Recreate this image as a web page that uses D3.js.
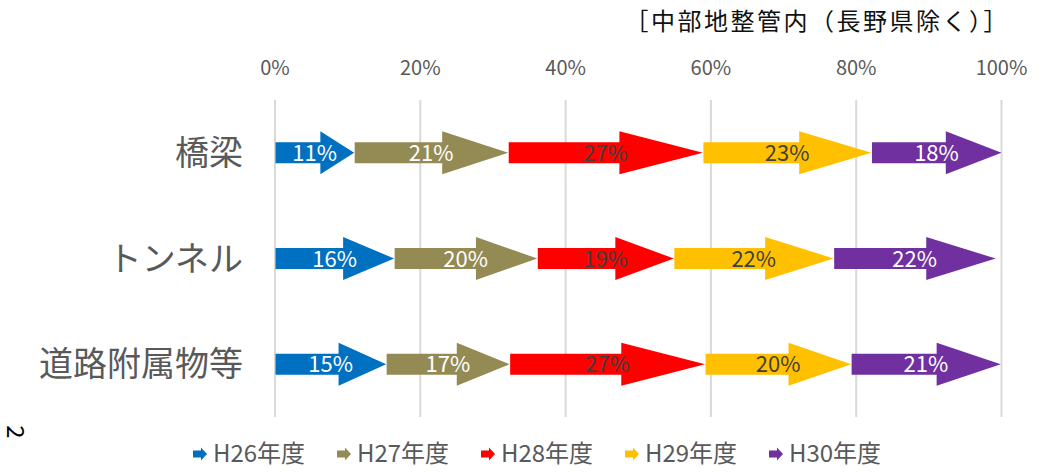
<!DOCTYPE html>
<html>
<head>
<meta charset="utf-8">
<script src="https://cdn.jsdelivr.net/npm/d3@7"></script>
<style>
  body { margin: 0; background: #fff; }
  svg { display: block; font-family: "Noto Sans CJK JP", "Noto Sans", sans-serif; }
</style>
</head>
<body>
<svg id="chart" width="1045" height="476"></svg>
<script>
/*** DATA ***/
let categories = ["橋梁", "トンネル", "道路附属物等"];
let seriesNames = ["H26年度", "H27年度", "H28年度", "H29年度", "H30年度"];
let h26 = [0.109, 0.164, 0.153],
    h27 = [0.212, 0.197, 0.170],
    h28 = [0.268, 0.188, 0.269],
    h29 = [0.232, 0.220, 0.201],
    h30 = [0.179, 0.223, 0.206];
let ticks = [0, 0.2, 0.4, 0.6, 0.8, 1.0];
let title = "［中部地整管内（長野県除く）］";

let colors = ["#0070C0", "#948A54", "#FF0000", "#FFC000", "#7030A0"],
    labelColors = ["#fff", "#fff", "#404040", "#404040", "#fff"];

/*** SETUP ***/
let svg = d3.select("#chart");
let x = d3.scaleLinear().domain([0, 1]).range([275, 1001.5]),
    y = d3.scaleBand().domain(categories).range([100, 417]);

let seriesVals = [h26, h27, h28, h29, h30];
let stacked = d3.stack()
    .keys(d3.range(seriesNames.length))
    .value((d, k) => seriesVals[k][d])(d3.range(categories.length));

// arrow shape, head is stretched with the arrow
function arrowPath(x0, x1, cy, shaftH, headH) {
    let head = (x1 - x0) * 0.43;
    return "M" + x0 + "," + (cy - shaftH / 2) +
        "L" + (x1 - head) + "," + (cy - shaftH / 2) +
        "L" + (x1 - head) + "," + (cy - headH / 2) +
        "L" + x1 + "," + cy +
        "L" + (x1 - head) + "," + (cy + headH / 2) +
        "L" + (x1 - head) + "," + (cy + shaftH / 2) +
        "L" + x0 + "," + (cy + shaftH / 2) + "Z";
}

/*** GRID + AXIS ***/
svg.append("g").selectAll("line").data(ticks).join("line")
    .attr("x1", d => x(d)).attr("x2", d => x(d))
    .attr("y1", 100).attr("y2", 417)
    .attr("stroke", "#d9d9d9").attr("stroke-width", 2);

svg.append("g").selectAll("text").data(ticks).join("text")
    .attr("x", d => x(d)).attr("y", 75)
    .attr("text-anchor", "middle")
    .attr("font-size", 20).attr("fill", "#595959")
    .text(d3.format(".0%"));

svg.append("g").selectAll("text").data(categories).join("text")
    .attr("x", 243).attr("y", d => y(d) + y.bandwidth() / 2 + 12)
    .attr("text-anchor", "end")
    .attr("font-size", 34).attr("fill", "#595959")
    .text(d => d);

/*** ARROWS ***/
let groups = svg.append("g").selectAll("g").data(stacked).join("g");

groups.selectAll("path").data(d => d).join("path")
    .attr("d", d => arrowPath(x(d[0]) + 0.5, x(d[1]), y(categories[d.data]) + y.bandwidth() / 2, 21, 43))
    .attr("fill", function() { return colors[d3.select(this.parentNode).datum().key]; });

groups.selectAll("text").data(d => d).join("text")
    .attr("x", d => (x(d[0]) + x(d[1])) / 2)
    .attr("y", d => y(categories[d.data]) + y.bandwidth() / 2 + 8)
    .attr("text-anchor", "middle")
    .attr("font-size", 22)
    .attr("fill", function() { return labelColors[d3.select(this.parentNode).datum().key]; })
    .text(d => d3.format(".0%")(d[1] - d[0]));

/*** TITLE ***/
svg.append("text")
    .attr("x", 1010).attr("y", 30)
    .attr("text-anchor", "end")
    .attr("font-size", 24).attr("letter-spacing", 2.5).attr("fill", "#111")
    .text(title);

svg.append("text")
    .attr("transform", "translate(7,432) rotate(90)")
    .attr("text-anchor", "middle")
    .attr("font-size", 24).attr("fill", "#000")
    .text("2");

/*** LEGEND ***/
let legend = svg.append("g").selectAll("g").data(seriesNames).join("g")
    .attr("transform", (d, i) => "translate(" + (193 + i * 144) + ",454)");

legend.append("path")
    .attr("d", arrowPath(0, 14, 0, 7, 13))
    .attr("fill", (d, i) => colors[i]);

legend.append("text")
    .attr("x", 20).attr("y", 8)
    .attr("font-size", 24).attr("fill", "#595959")
    .text(d => d);
</script>
</body>
</html>
